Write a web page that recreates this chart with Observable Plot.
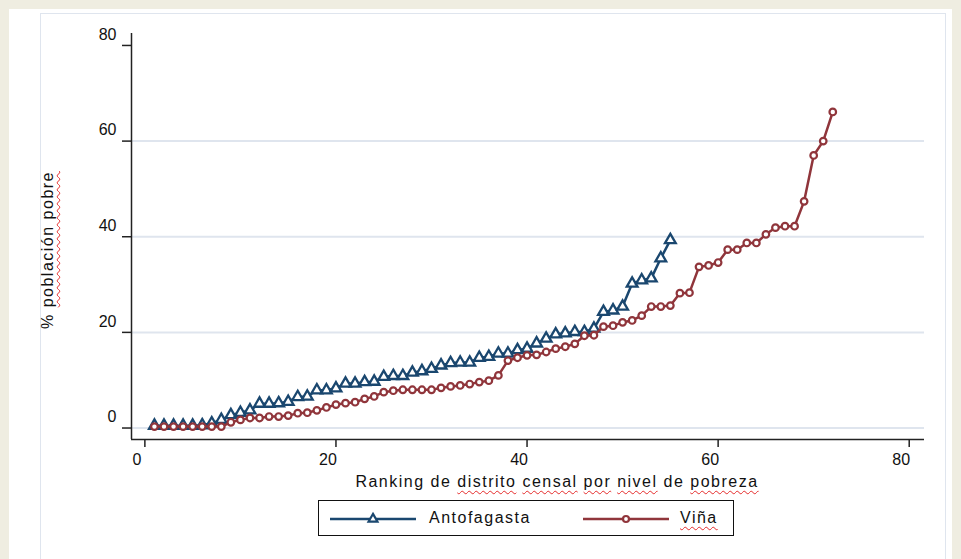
<!DOCTYPE html>
<html>
<head>
<meta charset="utf-8">
<script src="https://cdn.jsdelivr.net/npm/d3@7"></script>
<script src="https://cdn.jsdelivr.net/npm/@observablehq/plot@0.6"></script>
<style>
html,body{margin:0;padding:0;background:#efede1;}
#wrap{position:relative;width:961px;height:559px;overflow:hidden;background:#efede1;font-family:"Liberation Sans",Arial,sans-serif;color:#111;}
#panel{position:absolute;left:9px;top:9px;width:943px;height:580px;background:#fff;}
#inner{position:absolute;left:40px;top:13px;width:906px;height:580px;border:1.5px solid #dfe5ee;box-sizing:border-box;}
#chart{position:absolute;left:0;top:0;}
.sp{text-decoration:underline wavy #e52b2b;text-decoration-thickness:1px;text-decoration-skip-ink:none;text-underline-offset:3px;}
#xtitle{position:absolute;left:157px;top:473px;width:800px;text-align:center;font-size:16px;line-height:18px;letter-spacing:1.5px;white-space:nowrap;}
#ytitle{position:absolute;left:-102px;top:241px;width:300px;text-align:center;font-size:16px;line-height:18px;letter-spacing:1.5px;white-space:nowrap;transform:rotate(-90deg);}
#legend{position:absolute;left:318px;top:500px;width:416px;height:36px;border:1.3px solid #111;box-sizing:border-box;font-size:16px;letter-spacing:1.5px;}
#legend .lab{position:absolute;top:8px;line-height:18px;white-space:nowrap;}
#legend svg{position:absolute;top:0;}
</style>
</head>
<body>
<div id="wrap">
  <div id="panel"></div>
  <div id="inner"></div>
  <div id="chart"></div>
  <div id="ytitle">% <span class="sp">población pobre</span></div>
  <div id="xtitle">Ranking de <span class="sp">distrito</span> <span class="sp">censal</span> <span class="sp">por</span> <span class="sp">nivel</span> de <span class="sp">pobreza</span></div>
  <div id="legend"></div>
</div>
<script>
// ---- data ----
const seriesNames = ["Antofagasta", "Viña"];
const antofagasta = [
  0.5, 0.5, 0.5, 0.5, 0.5, 0.6, 1.0, 1.7, 2.7, 3.2,
  3.7, 5.1, 5.1, 5.2, 5.5, 6.5, 6.6, 7.9, 7.9, 8.3,
  9.3, 9.3, 9.6, 9.7, 10.7, 10.9, 10.9, 11.6, 11.9, 12.4,
  13.1, 13.6, 13.7, 13.7, 14.7, 14.9, 15.6, 15.6, 16.3, 16.6,
  17.7, 18.7, 19.6, 19.8, 20.1, 20.1, 20.8, 24.3, 24.6, 25.4,
  30.2, 30.9, 31.3, 35.5, 39.3
];
const vina = [
  0.3, 0.3, 0.3, 0.3, 0.3, 0.3, 0.3, 0.3, 1.2, 1.7,
  2.1, 2.1, 2.4, 2.4, 2.6, 3.1, 3.2, 3.7, 4.3, 4.9,
  5.2, 5.4, 6.1, 6.6, 7.5, 7.8, 8.0, 8.0, 8.0, 8.0,
  8.4, 8.7, 8.9, 9.2, 9.6, 9.9, 11.0, 14.1, 14.7, 15.2,
  15.3, 15.9, 16.6, 17.0, 17.6, 19.3, 19.4, 21.2, 21.4, 22.1,
  22.5, 23.5, 25.4, 25.4, 25.6, 28.2, 28.3, 33.7, 34.0, 34.6,
  37.3, 37.3, 38.7, 38.7, 40.5, 41.9, 42.2, 42.2, 47.4, 57.0,
  60.0, 66.1
];
const xTicks = [0, 20, 40, 60, 80];
const yTicks = [0, 20, 40, 60, 80];
const yGrid = [0, 20, 40, 60];

// ---- config ----
const colors = {"Antofagasta": "#1a476f", "Viña": "#90353b"};
const xDomain = [-1.4, 81.6];
const yDomain = [-2.4, 82.5];

const antoData = antofagasta.map((v, i) => ({rank: i + 1, value: v}));
const vinaData = vina.map((v, i) => ({rank: i + 1, value: v}));

const chart = Plot.plot({
  width: 961,
  height: 475,
  marginLeft: 131,
  marginRight: 37,
  marginTop: 33,
  marginBottom: 36,
  style: {fontFamily: "'Liberation Sans', Arial, sans-serif", fontSize: "16px", background: "transparent", color: "#111", overflow: "visible"},
  x: {domain: xDomain},
  y: {domain: yDomain},
  marks: [
    Plot.ruleY(yGrid, {stroke: "#dfe5ee", strokeWidth: 2}),
    Plot.ruleX([xDomain[0]], {stroke: "#222", strokeWidth: 1.5}),
    Plot.ruleY([yDomain[0]], {stroke: "#222", strokeWidth: 1.5}),
    Plot.axisY(yTicks, {anchor: "left", tickSize: 9, fill: "none", stroke: "#222", strokeWidth: 1.5, label: null}),
    Plot.axisY(yTicks, {anchor: "left", tickSize: 9, tickPadding: 6, stroke: "none", dy: -11, fill: "#111", label: null, tickFormat: d => String(d)}),
    Plot.axisX(xTicks, {anchor: "bottom", tickSize: 8, fill: "none", stroke: "#222", strokeWidth: 1.5, label: null}),
    Plot.axisX(xTicks, {anchor: "bottom", tickSize: 8, tickPadding: 6, stroke: "none", dx: -8, fill: "#111", label: null, tickFormat: d => String(d)}),
    Plot.line(antoData, {x: "rank", y: "value", stroke: colors["Antofagasta"], strokeWidth: 2.5}),
    Plot.dot(antoData, {x: "rank", y: "value", symbol: "triangle", r: 4, fill: "white", stroke: colors["Antofagasta"], strokeWidth: 2.3}),
    Plot.line(vinaData, {x: "rank", y: "value", stroke: colors["Viña"], strokeWidth: 2.5}),
    Plot.dot(vinaData, {x: "rank", y: "value", symbol: "circle", r: 3.3, fill: "white", stroke: colors["Viña"], strokeWidth: 2.2})
  ]
});
document.getElementById("chart").appendChild(chart);

// ---- legend ----
const legend = document.getElementById("legend");
const ns = "http://www.w3.org/2000/svg";
function swatch(left, color, sym) {
  const s = document.createElementNS(ns, "svg");
  s.setAttribute("width", 90); s.setAttribute("height", 34);
  s.style.left = left + "px";
  const l = document.createElementNS(ns, "line");
  l.setAttribute("x1", 2); l.setAttribute("x2", 88); l.setAttribute("y1", 18); l.setAttribute("y2", 18);
  l.setAttribute("stroke", color); l.setAttribute("stroke-width", 2.5);
  s.appendChild(l);
  const p = document.createElementNS(ns, "path");
  p.setAttribute("d", d3.symbol(sym === "triangle" ? d3.symbolTriangle : d3.symbolCircle, sym === "triangle" ? 34 : 28)());
  p.setAttribute("transform", "translate(45,18)");
  p.setAttribute("fill", "white"); p.setAttribute("stroke", color); p.setAttribute("stroke-width", 2.2);
  s.appendChild(p);
  legend.appendChild(s);
}
function label(left, html) {
  const d = document.createElement("div");
  d.className = "lab"; d.style.left = left + "px"; d.innerHTML = html;
  legend.appendChild(d);
}
swatch(9, colors["Antofagasta"], "triangle");
label(110, seriesNames[0]);
swatch(262, colors["Viña"], "circle");
label(361, '<span class="sp">' + seriesNames[1] + '</span>');
</script>
</body>
</html>
